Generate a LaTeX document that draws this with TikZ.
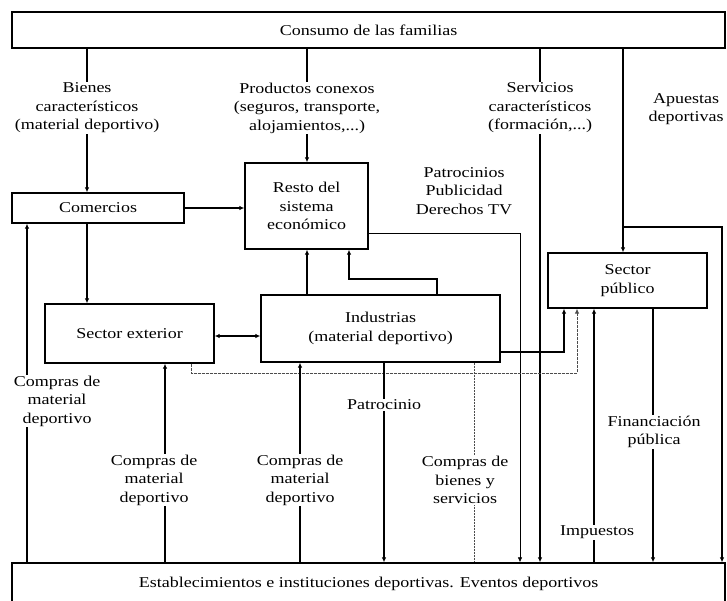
\documentclass[tikz,border=0pt]{standalone}
\usepackage{fontspec}
\setmainfont{Liberation Serif}[FakeStretch=1.2]
\usetikzlibrary{arrows.meta}
\begin{document}
\begin{tikzpicture}[x=1pt,y=-1pt,
  font=\fontsize{15}{18.5}\selectfont,
  box/.style={draw, line width=1.3pt, inner sep=0pt, align=center},
  lbl/.style={fill=white, align=center, inner sep=1pt},
  arr/.style={line width=1.3pt, -{Latex[length=5pt,width=4.5pt]}},
  thinarr/.style={line width=0.7pt, -{Latex[length=5pt,width=4.5pt]}},
  dsharr/.style={line width=0.9pt, dash pattern=on 3pt off 1pt, gray!60!black, -{Latex[length=5pt,width=4.5pt]}},
  dsh/.style={line width=0.9pt, dash pattern=on 2pt off 1pt, gray!60!black}]
\useasboundingbox (0,0) rectangle (727,600);

% boxes
\node[box, minimum width=713pt, minimum height=36pt] (consumo) at (368.5,30) {Consumo de las familias};
\node[box, minimum width=713pt, minimum height=42pt] (establ) at (368.5,584) {Establecimientos e instituciones deportivas. Eventos deportivos};
\node[box, minimum width=172pt, minimum height=30pt] (comercios) at (98,208) {Comercios};
\node[box, minimum width=123pt, minimum height=86pt] (resto) at (306.5,206) {Resto del\\sistema\\económico};
\node[box, minimum width=169pt, minimum height=59pt] (sext) at (129.5,333.5) {Sector exterior};
\node[box, minimum width=239pt, minimum height=67pt] (ind) at (380.5,328.5) {Industrias\\(material deportivo)};
\node[box, minimum width=159pt, minimum height=55pt] (sp) at (627.5,280.5) {Sector\\público};

% x positions
\coordinate (xb) at (87,0);
\coordinate (xp) at (307,0);
\coordinate (xs) at (540,0);
\coordinate (xa) at (623,0);
\coordinate (xr) at (722,0);
\coordinate (xk) at (520,0);
\coordinate (x437) at (437,0);
\coordinate (x349) at (349,0);
\coordinate (x564) at (564,0);
\coordinate (x577) at (577,0);
\coordinate (x191) at (191,0);
\coordinate (x27) at (27,0);
\coordinate (x165) at (165,0);
\coordinate (x300) at (300,0);
\coordinate (x384) at (384,0);
\coordinate (x474) at (474,0);
\coordinate (x594) at (594,0);
\coordinate (x653) at (653,0);
% y positions
\coordinate (y227) at (0,227);
\coordinate (y336) at (0,336);
\coordinate (y279) at (0,279);
\coordinate (y233) at (0,233);
\coordinate (y352) at (0,352);
\coordinate (y373) at (0,373);

% connectors
\draw[arr] (consumo.south -| xb) -- (comercios.north -| xb);
\draw[arr] (consumo.south -| xp) -- (resto.north -| xp);
\draw[arr] (consumo.south -| xs) -- (establ.north -| xs);
\draw[arr] (consumo.south -| xa) -- (sp.north -| xa);
\draw[arr] (xa |- y227) -| (establ.north -| xr);
\draw[arr] (comercios.east) -- (resto.west |- comercios.east);
\draw[arr] (comercios.south -| xb) -- (sext.north -| xb);
\draw[line width=1.3pt, {Latex[length=5pt,width=4.5pt]}-{Latex[length=5pt,width=4.5pt]}] (sext.east |- y336) -- (ind.west |- y336);
\draw[arr] (ind.north -| xp) -- (resto.south -| xp);
\draw[arr] (ind.north -| x437) |- (y279 -| x349) -- (resto.south -| x349);
\draw[thinarr] (resto.east |- y233) -| (establ.north -| xk);
\draw[arr] (ind.east |- y352) -| (sp.south -| x564);
\draw[dsharr] (sext.south -| x191) |- (y373 -| x577) -- (sp.south -| x577);
\draw[arr] (establ.north -| x27) -- (comercios.south -| x27);
\draw[arr] (establ.north -| x165) -- (sext.south -| x165);
\draw[arr] (establ.north -| x300) -- (ind.south -| x300);
\draw[arr] (ind.south -| x384) -- (establ.north -| x384);
\draw[dsh] (ind.south -| x474) -- (establ.north -| x474);
\draw[arr] (establ.north -| x594) -- (sp.south -| x594);
\draw[arr] (sp.south -| x653) -- (establ.north -| x653);

% labels
\node[lbl] (lbienes) at (87,108) {Bienes\\característicos\\(material deportivo)};
\node[lbl] (lprod) at (307,108) {Productos conexos\\(seguros, transporte,\\alojamientos,...)};
\node[lbl] (lserv) at (540,108) {Servicios\\característicos\\(formación,...)};
\node[align=center] (lapu) at (686,109) {Apuestas\\deportivas};
\node[align=center] (lpatr) at (464,191) {Patrocinios\\Publicidad\\Derechos TV};
\node[lbl] (lcompL) at (57,401) {Compras de\\material\\deportivo};
\node[lbl] (lcomp2) at (154,480) {Compras de\\material\\deportivo};
\node[lbl] (lcomp3) at (300,480) {Compras de\\material\\deportivo};
\node[lbl] (lpat) at (384,405) {Patrocinio};
\node[lbl] (lbys) at (465,480) {Compras de\\bienes y\\servicios};
\node[lbl] (limp) at (597,532) {Impuestos};
\node[lbl] (lfin) at (654,432) {Financiación\\pública};
\end{tikzpicture}
\end{document}
